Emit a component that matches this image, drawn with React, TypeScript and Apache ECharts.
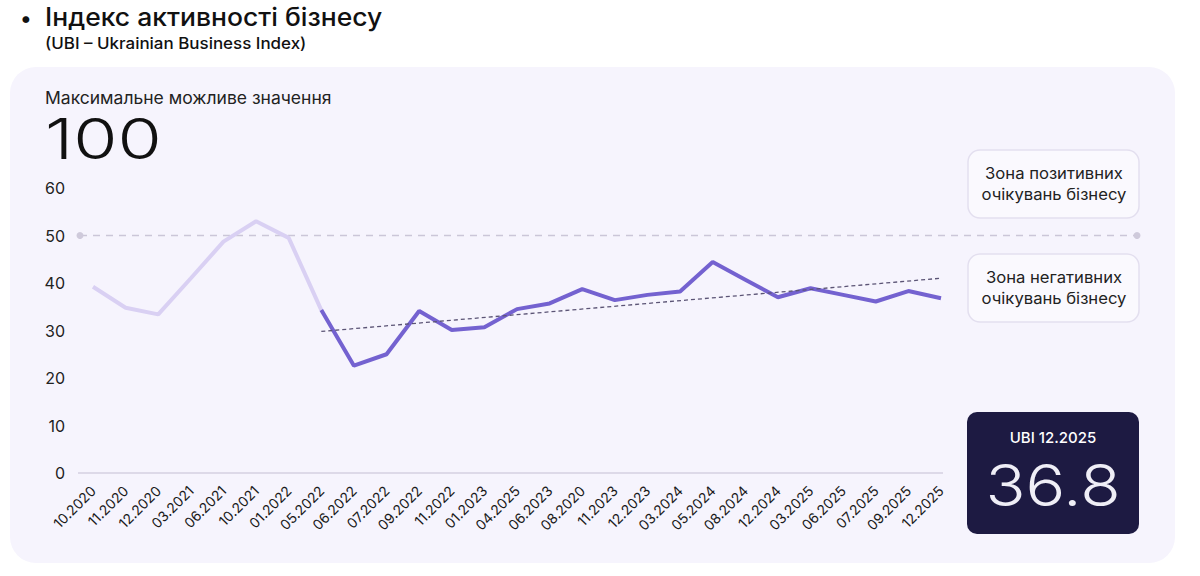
import React, { useEffect, useRef } from "react";
import * as echarts from "echarts";

const categories = [
  "10.2020", "11.2020", "12.2020", "03.2021", "06.2021", "10.2021", "01.2022", "05.2022",
  "06.2022", "07.2022", "09.2022", "11.2022", "01.2023", "04.2025", "06.2023", "08.2020",
  "11.2023", "12.2023", "03.2024", "05.2024", "08.2024", "12.2024", "03.2025", "06.2025",
  "07.2025", "09.2025", "12.2025",
];

// Early period (light line), index 0..7
const earlyValues = [39.2, 34.8, 33.4, 41.0, 48.7, 53.0, 49.5, 34.3];
// Later period (dark line), index 7..26
const lateValues = [
  34.3, 22.6, 25.0, 34.1, 30.1, 30.7, 34.5, 35.7, 38.7, 36.4, 37.5, 38.2, 44.4, 40.7, 37.0,
  38.9, 37.5, 36.1, 38.3, 36.8,
];
const lateStartIndex = 7;
// Trend line endpoints
const trendStart = 29.8;
const trendEnd = 41.0;
const thresholdValue = 50;
const yTicks = [0, 10, 20, 30, 40, 50, 60];
const latestLabel = "UBI 12.2025";
const latestValue = "36.8";

const FONT = "Inter, 'Noto Sans', sans-serif";

export default function App() {
  const ref = useRef<HTMLDivElement>(null);

  useEffect(() => {
    document.body.style.margin = "0";
    if (!ref.current) return;
    const chart = echarts.init(ref.current, undefined, { renderer: "svg" });

    const n = categories.length;
    const early = categories.map((_, i) => (i < earlyValues.length ? earlyValues[i] : null));
    const late = categories.map((_, i) =>
      i >= lateStartIndex ? lateValues[i - lateStartIndex] : null
    );
    const trend = categories.map((_, i) =>
      i === lateStartIndex ? trendStart : i === n - 1 ? trendEnd : null
    );

    const baseGraphics: any[] = [
      {
        type: "rect",
        z: -10,
        shape: { x: 10, y: 67, width: 1165, height: 496, r: 26 },
        style: { fill: "#f6f4fd" },
      },
      {
        type: "text",
        x: 20,
        y: 18,
        style: { text: "•", font: `500 22px ${FONT}`, fill: "#111", verticalAlign: "middle" },
      },
      {
        type: "text",
        x: 45,
        y: 17,
        style: {
          text: "Індекс активності бізнесу",
          font: `500 25px ${FONT}`,
          fill: "#111",
          verticalAlign: "middle",
        },
        scaleX: 1.06,
      },
      {
        type: "text",
        x: 45,
        y: 43,
        style: {
          text: "(UBI – Ukrainian Business Index)",
          font: `500 16px ${FONT}`,
          fill: "#111",
          verticalAlign: "middle",
        },
        scaleX: 1.06,
      },
      {
        type: "text",
        x: 45,
        y: 98,
        style: {
          text: "Максимальне можливе значення",
          font: `400 17px ${FONT}`,
          fill: "#222",
          verticalAlign: "middle",
        },
        scaleX: 1.03,
      },
      {
        type: "text",
        x: 45,
        y: 139,
        style: { text: "100", font: `300 56px ${FONT}`, fill: "#111", verticalAlign: "middle" },
        scaleX: 1.28,
      },
      {
        type: "rect",
        shape: { x: 968, y: 150, width: 171, height: 68, r: 12 },
        style: { fill: "#faf9fe", stroke: "#e3dfef", lineWidth: 1.5 },
      },
      {
        type: "text",
        x: 1054,
        y: 184,
        style: {
          text: "Зона позитивних\nочікувань бізнесу",
          font: `400 16px ${FONT}`,
          lineHeight: 21,
          fill: "#222",
          align: "center",
          verticalAlign: "middle",
        },
        scaleX: 1.04,
      },
      {
        type: "rect",
        shape: { x: 968, y: 254, width: 171, height: 68, r: 12 },
        style: { fill: "#faf9fe", stroke: "#e3dfef", lineWidth: 1.5 },
      },
      {
        type: "text",
        x: 1054,
        y: 288,
        style: {
          text: "Зона негативних\nочікувань бізнесу",
          font: `400 16px ${FONT}`,
          lineHeight: 21,
          fill: "#222",
          align: "center",
          verticalAlign: "middle",
        },
        scaleX: 1.04,
      },
      {
        type: "rect",
        shape: { x: 967, y: 412, width: 172, height: 122, r: 10 },
        style: { fill: "#1d1a42" },
      },
      {
        type: "text",
        x: 1053,
        y: 437,
        style: {
          text: latestLabel,
          font: `500 15px ${FONT}`,
          fill: "#ffffff",
          align: "center",
          verticalAlign: "middle",
        },
      },
      {
        type: "text",
        x: 1053,
        y: 485,
        style: {
          text: latestValue,
          font: `300 58px ${FONT}`,
          fill: "#efeef6",
          align: "center",
          verticalAlign: "middle",
        },
        scaleX: 1.14,
      },
    ];

    const option: any = {
      animation: false,
      backgroundColor: "#ffffff",
      grid: { left: 93, right: 259, top: 188, bottom: 103, containLabel: false },
      xAxis: {
        type: "category",
        data: categories,
        boundaryGap: false,
        axisLine: { show: false },
        axisTick: { show: false },
        axisLabel: {
          rotate: 45,
          fontSize: 14,
          fontFamily: FONT,
          color: "#1a1a1a",
          margin: 15,
          interval: 0,
        },
      },
      yAxis: {
        type: "value",
        min: 0,
        max: 60,
        interval: 10,
        axisLine: { show: false },
        axisTick: { show: false },
        splitLine: { show: false },
        axisLabel: {
          fontSize: 16,
          fontFamily: FONT,
          color: "#222",
          margin: 28,
          customValues: yTicks,
        },
      },
      series: [
        {
          type: "line",
          data: early,
          symbol: "none",
          lineStyle: { color: "#d9d0f3", width: 4 },
          z: 3,
        },
        {
          type: "line",
          data: late,
          symbol: "none",
          lineStyle: { color: "#7462d0", width: 4 },
          z: 4,
        },
        {
          type: "line",
          data: trend,
          connectNulls: true,
          symbol: "none",
          lineStyle: { color: "#5b5475", width: 1.3, type: [4, 3] },
          z: 5,
        },
      ],
      graphic: { elements: baseGraphics },
    };

    chart.setOption(option);

    const y50 = chart.convertToPixel({ yAxisIndex: 0 }, thresholdValue) as number;
    const y0 = chart.convertToPixel({ yAxisIndex: 0 }, 0) as number;
    const extra: any[] = [
      {
        type: "line",
        shape: { x1: 78, y1: y0, x2: 943, y2: y0 },
        style: { stroke: "#d4d0e0", lineWidth: 1.5 },
      },
      {
        type: "line",
        shape: { x1: 80, y1: y50, x2: 1137, y2: y50 },
        style: { stroke: "#cbc6d8", lineWidth: 1.3, lineDash: [7, 6] },
      },
      { type: "circle", shape: { cx: 80, cy: y50, r: 3.5 }, style: { fill: "#cfcadb" } },
      { type: "circle", shape: { cx: 1137, cy: y50, r: 3.5 }, style: { fill: "#cfcadb" } },
    ];
    chart.setOption({ graphic: { elements: [...baseGraphics, ...extra] } });

    return () => chart.dispose();
  }, []);

  return <div ref={ref} style={{ width: 1200, height: 576 }} />;
}
